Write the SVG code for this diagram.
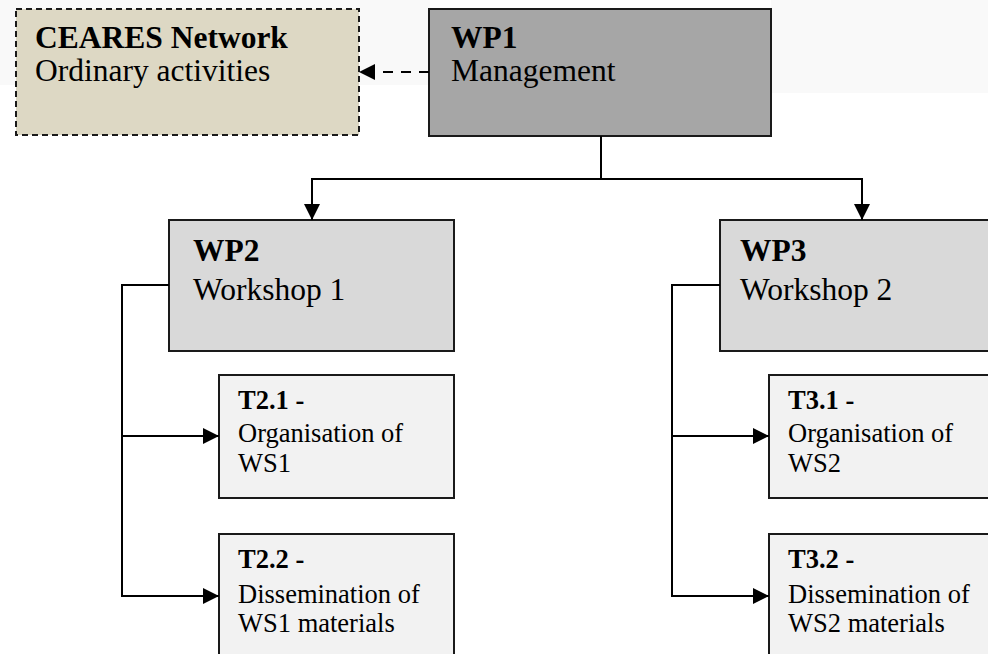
<svg xmlns="http://www.w3.org/2000/svg" width="988" height="654" viewBox="0 0 988 654">
<style>
.box{stroke:#1a1a1a;stroke-width:2}
.t{font-family:"Liberation Serif","Times New Roman",serif;fill:#000}
.b{font-weight:bold}
.big{font-size:31.5px}
.sm{font-size:26.5px}
.con{fill:none;stroke:#000;stroke-width:2}
</style>
<defs>
<marker id="ah" viewBox="0 0 10 10" refX="10" refY="5" markerWidth="16" markerHeight="16" markerUnits="userSpaceOnUse" orient="auto">
<path d="M0,0 L10,5 L0,10 z" fill="#000"/>
</marker>
</defs>
<rect x="0" y="0" width="430" height="85" fill="#f9f9f9"/>
<rect x="771" y="0" width="217" height="93" fill="#f9f9f9"/>
<g id="ceares">
<rect x="16" y="9" width="343" height="126" fill="#ddd8c4" stroke="#1a1a1a" stroke-width="2" stroke-dasharray="6,4"/>
<text class="t big b" x="35" y="48">CEARES Network</text>
<text class="t big" x="35" y="81">Ordinary activities</text>
</g>
<g id="wp1">
<rect class="box" x="429" y="9" width="342" height="127" fill="#a6a6a6"/>
<text class="t big b" x="451" y="48">WP1</text>
<text class="t big" x="451" y="81">Management</text>
</g>
<g id="wp2">
<rect class="box" x="169" y="220" width="285" height="131" fill="#d9d9d9"/>
<text class="t big b" x="193" y="261">WP2</text>
<text class="t big" x="193" y="300">Workshop 1</text>
</g>
<g id="wp3">
<rect class="box" x="720" y="220" width="280" height="131" fill="#d9d9d9"/>
<text class="t big b" x="740" y="261">WP3</text>
<text class="t big" x="740" y="300">Workshop 2</text>
</g>
<g id="t21">
<rect class="box" x="219" y="375" width="235" height="123" fill="#f2f2f2"/>
<text class="t sm b" x="238" y="409">T2.1 -</text>
<text class="t sm" x="238" y="442">Organisation of</text>
<text class="t sm" x="238" y="472">WS1</text>
</g>
<g id="t22">
<rect class="box" x="219" y="534" width="235" height="130" fill="#f2f2f2"/>
<text class="t sm b" x="238" y="568">T2.2 -</text>
<text class="t sm" x="238" y="603">Dissemination of</text>
<text class="t sm" x="238" y="632">WS1 materials</text>
</g>
<g id="t31">
<rect class="box" x="769" y="375" width="235" height="123" fill="#f2f2f2"/>
<text class="t sm b" x="788" y="409">T3.1 -</text>
<text class="t sm" x="788" y="442">Organisation of</text>
<text class="t sm" x="788" y="472">WS2</text>
</g>
<g id="t32">
<rect class="box" x="769" y="534" width="235" height="130" fill="#f2f2f2"/>
<text class="t sm b" x="788" y="568">T3.2 -</text>
<text class="t sm" x="788" y="603">Dissemination of</text>
<text class="t sm" x="788" y="632">WS2 materials</text>
</g>
<g id="connectors">
<path class="con" d="M429,72 H359" stroke-dasharray="10,8" marker-end="url(#ah)"/>
<path class="con" d="M601,136 V179 H312 V220" marker-end="url(#ah)"/>
<path class="con" d="M601,179 H862 V220" marker-end="url(#ah)"/>
<path class="con" d="M169,285 H122 V596 H219" marker-end="url(#ah)"/>
<path class="con" d="M122,436 H219" marker-end="url(#ah)"/>
<path class="con" d="M720,285 H672 V596 H769" marker-end="url(#ah)"/>
<path class="con" d="M672,436 H769" marker-end="url(#ah)"/>
</g>
</svg>
